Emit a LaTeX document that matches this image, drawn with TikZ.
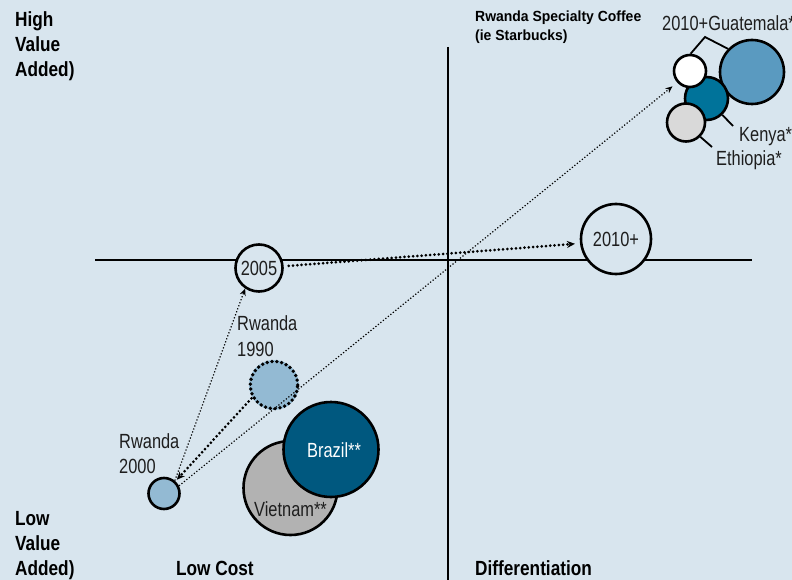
\documentclass[tikz,border=0pt]{standalone}
\usepackage{fontspec}
\setmainfont{Liberation Sans}
\newfontfamily\cnd{Liberation Sans}[FakeStretch=0.8]
\newfontfamily\cndb{Liberation Sans}[FakeStretch=0.84]
\newfontfamily\cnds{Liberation Sans}[FakeStretch=0.95]
\usetikzlibrary{arrows.meta}
\definecolor{bg}{RGB}{216,229,238}
\definecolor{rwblue}{RGB}{147,186,211}
\definecolor{brazil}{RGB}{0,88,127}
\definecolor{viet}{RGB}{178,178,178}
\definecolor{guat}{RGB}{90,154,192}
\definecolor{kenya}{RGB}{0,115,154}
\definecolor{ethio}{RGB}{217,217,217}
\definecolor{txt}{RGB}{30,30,30}
\tikzset{
  lbl/.style={inner sep=0pt, anchor=base west, text=txt, font=\cnd\fontsize{20.5}{24}\selectfont},
  blbl/.style={inner sep=0pt, anchor=base west, text=black, font=\cndb\bfseries\fontsize{20.5}{24}\selectfont},
  slbl/.style={inner sep=0pt, anchor=base west, text=black, font=\cnds\bfseries\fontsize{14.7}{17}\selectfont},
  bub/.style={circle, draw=black, line width=2.6pt, inner sep=0pt, text=txt, font=\cnd\fontsize{20.5}{24}\selectfont},
  axis/.style={line width=2.2pt, black},
  leader/.style={line width=1.8pt, black},
  thindot/.style={line width=1.2pt, dash pattern=on 1.2pt off 2pt, -{Stealth[length=7pt,width=6pt]}},
  thickdot/.style={line width=3pt, line cap=round, dash pattern=on 0pt off 4.3pt, -{Stealth[length=8pt,width=7pt]}},
}
\begin{document}
\begin{tikzpicture}[x=1pt,y=-1pt]
\useasboundingbox (0,0) rectangle (792,580);
\fill[bg] (0,0) rectangle (792,580);
% axes
\coordinate (vtop) at (448,47);
\coordinate (vbot) at (448,580);
\coordinate (hl) at (95,260);
\coordinate (hr) at (752,260);
\draw[axis] (vtop) -- (vbot);
\draw[axis] (hl) -- (hr);
% leader coordinates
\coordinate (gv) at (705,37);
\coordinate (kend) at (733,126);
\coordinate (eend) at (712,147);
% top right cluster
\node[bub, fill=guat, minimum size=64pt] (nbig) at (752,72) {};
\node[bub, fill=kenya, minimum size=43pt] (nteal) at (706.5,98.5) {};
\node[bub, fill=ethio, minimum size=38pt] (ngray) at (686,122.5) {};
\node[bub, fill=white, minimum size=32pt] (nwhite) at (690,71) {};
\draw[leader] (nwhite.88) -- (gv) -- (nbig.136);
\draw[leader] (nteal.314) -- (kend);
\draw[leader] (ngray.315) -- (eend);
% middle circles
\node[bub, fill=bg, minimum size=47pt] (n2005) at (259,268) {2005};
\node[bub, fill=bg, minimum size=70pt] (n2010) at (616,239) {2010+};
% bottom circles
\node[bub, fill=viet, minimum size=94pt] (nviet) at (290.5,488) {};
\node[bub, fill=brazil, minimum size=95pt] (nbraz) at (331,449.5) {};
\node[circle, inner sep=0pt, fill=rwblue, minimum size=50pt] (n1990) at (274,385) {};
\draw[line width=3.8pt, line cap=round, dash pattern=on 0pt off 4.9pt] (n1990.center) circle (23.7pt);
\node[bub, fill=rwblue, minimum size=31pt] (n2000) at (164,493.5) {};
% arrows
\draw[thindot] (n2000.50) -- (n2005.236);
\draw[thindot, shorten >=6pt] (n2000.27) -- (nwhite.222);
\draw[thickdot, shorten <=1pt, shorten >=2pt] (n1990.210) -- (n2000.47);
\draw[thickdot, shorten <=5pt, shorten >=5pt] (n2005.4) -- (n2010.187);
% labels
\node[lbl] (tguat) at (662,31) {2010+Guatemala*};
\node[lbl] (tkenya) at (739,141.5) {Kenya*};
\node[lbl] (tethio) at (716,166) {Ethiopia*};
\node[lbl] (trw90a) at (237,330) {Rwanda};
\node[lbl] (trw90b) at (237,356.5) {1990};
\node[lbl] (trw00a) at (119,448.5) {Rwanda};
\node[lbl] (trw00b) at (119,473.5) {2000};
\node[lbl, text=white] (tbraz) at (307,457) {Brazil**};
\node[lbl] (tviet) at (254,516.5) {Vietnam**};
\node[slbl] (tspec1) at (475,22) {Rwanda Specialty Coffee};
\node[slbl] (tspec2) at (475,41) {(ie Starbucks)};
\node[blbl] (th1) at (15,26.5) {High};
\node[blbl] (th2) at (15,52) {Value};
\node[blbl] (th3) at (15,77) {Added)};
\node[blbl] (tl1) at (15,525) {Low};
\node[blbl] (tl2) at (15,550) {Value};
\node[blbl] (tl3) at (15,575) {Added)};
\node[blbl] (tcost) at (176,575) {Low Cost};
\node[blbl] (tdiff) at (475,575) {Differentiation};
\end{tikzpicture}
\end{document}
